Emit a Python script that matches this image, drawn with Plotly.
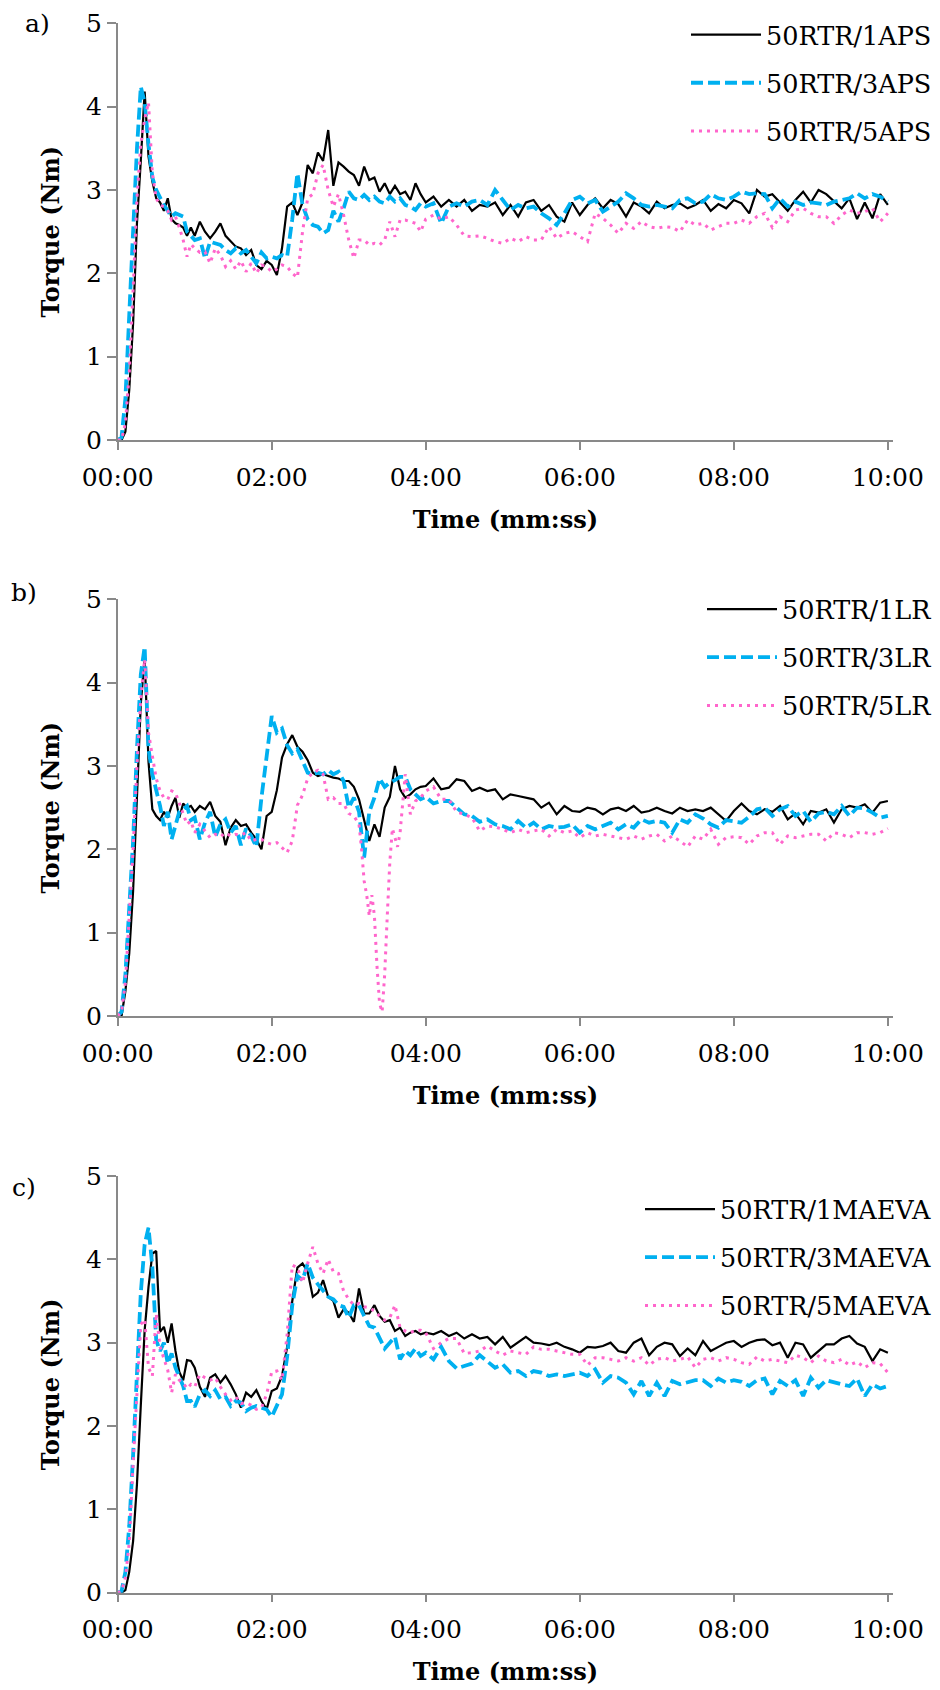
import plotly.graph_objects as go

# ---------------- data ----------------
# common time grid (seconds); 0-60 s every 3 s, 64-240 s every 4 s, 246-600 s every 6 s
TIME = list(range(0, 61, 3)) + list(range(64, 241, 4)) + list(range(246, 601, 6))
TICK_VALS = [0, 120, 240, 360, 480, 600]
TICK_TEXT = ["00:00", "02:00", "04:00", "06:00", "08:00", "10:00"]
Y_TICKS = [0, 1, 2, 3, 4, 5]

# panel a)
A1 = ([0, 0, 0.1, 0.6, 1.4, 2.6, 3.35, 4.18, 3.4, 3.1, 2.9, 2.85, 2.75, 2.9, 2.65, 2.6, 2.58, 2.55, 2.45, 2.55, 2.45]
      + [2.62, 2.5, 2.42, 2.5, 2.6, 2.45, 2.38, 2.32, 2.3, 2.22, 2.28, 2.1, 2.05, 2.15, 2.1, 1.98, 2.3, 2.8, 2.85, 2.7,
         2.85, 3.3, 3.2, 3.45, 3.35, 3.72, 3.05, 3.33, 3.28, 3.22, 3.18, 3.05, 3.28, 3.12, 3.15, 2.98, 3.08, 2.95, 3.05, 2.95,
         2.98, 2.88, 3.08, 2.95, 2.85]
      + [2.92, 2.8, 2.88, 2.8, 2.88, 2.75, 2.82, 2.8, 2.85, 2.7, 2.82, 2.68, 2.85, 2.88, 2.75, 2.82, 2.68, 2.62, 2.85, 2.7,
         2.82, 2.9, 2.78, 2.88, 2.83, 2.68, 2.85, 2.8, 2.72, 2.86, 2.78, 2.82, 2.84, 2.78, 2.82, 2.88, 2.75, 2.83, 2.78, 2.88,
         2.84, 2.72, 3.0, 2.92, 2.95, 2.85, 2.75, 2.88, 2.98, 2.85, 3.0, 2.95, 2.86, 2.78, 2.9, 2.65, 2.85, 2.66, 2.95, 2.82])
A3 = ([0, 0.03, 0.5, 1.45, 2.6, 3.5, 4.24, 4.05, 3.55, 3.15, 3.0, 2.9, 2.82, 2.75, 2.68, 2.72, 2.7, 2.68, 2.5, 2.45, 2.4]
      + [2.42, 2.18, 2.38, 2.36, 2.34, 2.28, 2.24, 2.3, 2.24, 2.28, 2.2, 2.12, 2.25, 2.18, 2.2, 2.18, 2.22, 2.2, 2.65, 3.2,
         2.82, 2.65, 2.58, 2.56, 2.48, 2.52, 2.75, 2.62, 2.78, 2.98, 2.9, 2.88, 2.94, 2.88, 2.92, 2.86, 2.84, 2.92, 2.86, 2.9,
         2.82, 2.8, 2.76, 2.84, 2.8]
      + [2.84, 2.6, 2.8, 2.84, 2.8, 2.86, 2.88, 2.82, 3.0, 2.88, 2.76, 2.82, 2.78, 2.8, 2.72, 2.66, 2.58, 2.72, 2.88, 2.92,
         2.84, 2.88, 2.74, 2.8, 2.86, 2.96, 2.9, 2.82, 2.8, 2.82, 2.8, 2.78, 2.88, 2.9, 2.84, 2.86, 2.95, 2.9, 2.88, 2.92,
         2.98, 2.95, 2.96, 2.95, 2.78, 2.9, 2.8, 2.86, 2.82, 2.85, 2.84, 2.82, 2.86, 2.88, 2.9, 2.96, 2.9, 2.95, 2.92, 2.86])
A5 = ([0, 0, 0.2, 0.8, 1.8, 2.9, 3.55, 3.85, 4.05, 3.2, 2.9, 2.82, 2.8, 2.75, 2.64, 2.68, 2.55, 2.4, 2.2, 2.35, 2.3]
      + [2.25, 2.26, 2.12, 2.3, 2.22, 2.08, 2.15, 2.05, 2.15, 2.02, 2.12, 2.0, 2.1, 2.08, 2.02, 2.05, 2.1, 2.08, 2.0, 1.95,
         2.5, 2.9, 2.95, 3.2, 3.3, 3.0, 2.8, 2.95, 2.7, 2.4, 2.18, 2.4, 2.4, 2.34, 2.36, 2.34, 2.4, 2.62, 2.44, 2.64,
         2.64, 2.62, 2.6, 2.5, 2.65]
      + [2.7, 2.65, 2.68, 2.58, 2.45, 2.44, 2.45, 2.42, 2.38, 2.36, 2.42, 2.38, 2.44, 2.4, 2.4, 2.56, 2.42, 2.48, 2.5, 2.44,
         2.38, 2.72, 2.66, 2.58, 2.48, 2.6, 2.54, 2.62, 2.56, 2.54, 2.56, 2.55, 2.5, 2.64, 2.58, 2.6, 2.52, 2.56, 2.6, 2.6,
         2.64, 2.6, 2.68, 2.72, 2.55, 2.68, 2.62, 2.76, 2.78, 2.72, 2.68, 2.68, 2.6, 2.7, 2.76, 2.72, 2.74, 2.78, 2.62, 2.72])

# panel b)
B1 = ([0, 0, 0.3, 0.75, 1.5, 2.6, 3.75, 4.3, 3.05, 2.48, 2.4, 2.35, 2.45, 2.38, 2.52, 2.62, 2.38, 2.55, 2.5, 2.52, 2.45]
      + [2.52, 2.48, 2.57, 2.4, 2.33, 2.05, 2.26, 2.35, 2.28, 2.3, 2.2, 2.12, 2.0, 2.4, 2.45, 2.71, 3.1, 3.26, 3.37, 3.23,
         3.17, 3.07, 2.92, 2.88, 2.9, 2.88, 2.86, 2.85, 2.82, 2.82, 2.75, 2.6, 2.35, 2.1, 2.3, 2.15, 2.5, 2.63, 3.0, 2.72,
         2.62, 2.66, 2.72, 2.75, 2.76]
      + [2.85, 2.72, 2.74, 2.84, 2.82, 2.7, 2.74, 2.7, 2.72, 2.6, 2.66, 2.64, 2.62, 2.6, 2.5, 2.56, 2.42, 2.52, 2.46, 2.45,
         2.5, 2.48, 2.42, 2.48, 2.5, 2.46, 2.52, 2.44, 2.46, 2.5, 2.46, 2.43, 2.5, 2.46, 2.48, 2.46, 2.5, 2.42, 2.34, 2.46,
         2.55, 2.46, 2.42, 2.48, 2.45, 2.52, 2.36, 2.43, 2.3, 2.46, 2.44, 2.48, 2.32, 2.48, 2.52, 2.5, 2.54, 2.44, 2.56, 2.58])
B3 = ([0, 0.05, 0.5, 1.3, 2.1, 3.2, 4.1, 4.43, 3.2, 2.9, 2.72, 2.52, 2.28, 2.45, 2.12, 2.3, 2.45, 2.48, 2.52, 2.35, 2.38]
      + [2.12, 2.32, 2.45, 2.15, 2.3, 2.36, 2.2, 2.28, 2.05, 2.25, 2.16, 2.03, 2.62, 3.15, 3.6, 3.4, 3.45, 3.25, 3.15, 3.2,
         3.05, 2.92, 2.9, 2.92, 2.9, 2.95, 2.9, 2.93, 2.82, 2.5, 2.62, 2.45, 1.9, 2.45, 2.62, 2.85, 2.75, 2.8, 2.83, 2.87,
         2.87, 2.72, 2.66, 2.6, 2.63]
      + [2.55, 2.58, 2.58, 2.5, 2.42, 2.4, 2.33, 2.36, 2.3, 2.28, 2.24, 2.34, 2.26, 2.32, 2.24, 2.28, 2.26, 2.27, 2.3, 2.2,
         2.28, 2.24, 2.28, 2.32, 2.24, 2.3, 2.26, 2.36, 2.32, 2.34, 2.32, 2.2, 2.36, 2.32, 2.42, 2.37, 2.3, 2.26, 2.35, 2.34,
         2.32, 2.39, 2.48, 2.5, 2.4, 2.48, 2.52, 2.4, 2.46, 2.33, 2.43, 2.45, 2.42, 2.52, 2.4, 2.5, 2.49, 2.44, 2.38, 2.4])
B5 = ([0, 0.05, 0.4, 1.15, 2.0, 3.0, 3.8, 4.28, 3.4, 3.12, 2.85, 2.7, 2.62, 2.6, 2.7, 2.68, 2.55, 2.42, 2.3, 2.34, 2.2]
      + [2.3, 2.22, 2.14, 2.18, 2.15, 2.2, 2.16, 2.18, 2.17, 2.2, 2.1, 2.12, 2.12, 2.08, 2.06, 2.08, 2.02, 1.96, 2.1, 2.53,
         2.65, 2.85, 2.92, 2.95, 2.9, 2.6, 2.62, 2.55, 2.55, 2.43, 2.4, 2.3, 1.62, 1.2, 1.2, 0.15, 0.5, 1.85, 2.15, 2.2,
         2.9, 2.42, 2.58, 2.62, 2.7]
      + [2.75, 2.6, 2.6, 2.45, 2.42, 2.38, 2.22, 2.28, 2.27, 2.24, 2.2, 2.24, 2.2, 2.22, 2.24, 2.16, 2.24, 2.2, 2.22, 2.14,
         2.2, 2.16, 2.18, 2.16, 2.14, 2.12, 2.16, 2.12, 2.16, 2.18, 2.1, 2.16, 2.1, 2.03, 2.16, 2.12, 2.24, 2.06, 2.14, 2.15,
         2.14, 2.06, 2.16, 2.2, 2.2, 2.06, 2.16, 2.14, 2.16, 2.18, 2.18, 2.1, 2.2, 2.18, 2.14, 2.2, 2.2, 2.18, 2.2, 2.25])
# extra samples of 50RTR/5LR inside its sharp dip
B5_DIP_TIME = [190, 194, 198, 202, 206, 210, 214, 218, 222]
B5_DIP = [2.0, 1.45, 1.45, 0.6, 0.05, 1.2, 2.25, 2.03, 2.55]

# panel c)
C1 = ([0, 0, 0.03, 0.25, 0.62, 1.3, 2.25, 3.15, 3.67, 4.07, 4.1, 3.13, 3.19, 3.0, 3.23, 2.9, 2.65, 2.55, 2.79, 2.78, 2.7]
      + [2.47, 2.35, 2.58, 2.62, 2.52, 2.6, 2.5, 2.38, 2.22, 2.4, 2.35, 2.43, 2.3, 2.2, 2.42, 2.45, 2.6, 2.95, 3.5, 3.9,
         3.95, 3.85, 3.55, 3.6, 3.75, 3.55, 3.5, 3.3, 3.4, 3.36, 3.25, 3.65, 3.35, 3.35, 3.45, 3.32, 3.25, 3.27, 3.14, 3.18,
         3.08, 3.12, 3.14, 3.1, 3.12]
      + [3.1, 3.14, 3.08, 3.12, 3.05, 3.1, 3.05, 3.07, 2.98, 3.07, 2.94, 3.0, 3.07, 3.0, 2.99, 2.97, 3.0, 2.95, 2.92, 2.88,
         2.95, 2.94, 2.96, 3.0, 2.9, 2.88, 3.0, 3.05, 2.85, 2.95, 3.0, 2.98, 2.84, 2.93, 2.85, 3.02, 2.9, 2.95, 3.0, 3.02,
         2.95, 3.0, 3.03, 3.04, 2.97, 3.0, 2.82, 3.0, 2.98, 2.82, 2.9, 2.98, 2.98, 3.05, 3.08, 2.99, 2.95, 2.78, 2.92, 2.88])
C3 = ([0, 0.02, 0.25, 0.8, 1.65, 2.55, 3.6, 4.18, 4.38, 3.91, 3.03, 2.9, 3.0, 2.75, 2.87, 2.7, 2.6, 2.48, 2.3, 2.3, 2.23]
      + [2.38, 2.43, 2.36, 2.43, 2.32, 2.35, 2.24, 2.3, 2.28, 2.18, 2.22, 2.24, 2.22, 2.2, 2.11, 2.25, 2.38, 2.83, 3.45, 3.8,
         3.75, 3.95, 3.78, 3.7, 3.62, 3.55, 3.52, 3.45, 3.43, 3.3, 3.45, 3.45, 3.32, 3.2, 3.18, 3.05, 2.93, 3.0, 3.07, 2.8,
         2.9, 2.85, 2.93, 2.84, 2.88]
      + [2.8, 2.95, 2.78, 2.69, 2.72, 2.75, 2.85, 2.78, 2.7, 2.74, 2.64, 2.66, 2.6, 2.66, 2.64, 2.6, 2.62, 2.6, 2.62, 2.64,
         2.6, 2.68, 2.52, 2.6, 2.58, 2.52, 2.38, 2.54, 2.36, 2.52, 2.36, 2.54, 2.5, 2.52, 2.55, 2.55, 2.48, 2.57, 2.52, 2.55,
         2.53, 2.48, 2.55, 2.57, 2.38, 2.54, 2.48, 2.55, 2.36, 2.58, 2.46, 2.55, 2.52, 2.5, 2.48, 2.57, 2.36, 2.5, 2.45, 2.48])
C5 = ([0, 0.02, 0.18, 0.6, 1.55, 2.45, 3.22, 3.28, 2.7, 2.6, 3.35, 2.95, 2.82, 2.67, 2.4, 2.62, 2.55, 2.52, 2.45, 2.5, 2.47]
      + [2.62, 2.58, 2.55, 2.58, 2.47, 2.38, 2.31, 2.35, 2.27, 2.28, 2.25, 2.2, 2.22, 2.38, 2.65, 2.66, 2.55, 3.1, 3.93, 3.9,
         3.72, 3.95, 4.15, 3.95, 3.83, 4.0, 3.85, 3.83, 3.62, 3.52, 3.45, 3.47, 3.43, 3.42, 3.38, 3.32, 3.27, 3.3, 3.45, 3.18,
         3.14, 3.12, 3.15, 3.15, 3.12]
      + [2.93, 3.0, 3.05, 3.05, 2.87, 2.88, 2.9, 2.96, 2.9, 2.85, 2.9, 2.88, 2.86, 2.95, 2.92, 2.92, 2.9, 2.88, 2.86, 2.86,
         2.73, 2.82, 2.82, 2.8, 2.78, 2.82, 2.78, 2.82, 2.73, 2.8, 2.82, 2.78, 2.8, 2.83, 2.7, 2.8, 2.82, 2.78, 2.82, 2.8,
         2.76, 2.74, 2.83, 2.78, 2.8, 2.78, 2.76, 2.85, 2.82, 2.76, 2.84, 2.78, 2.76, 2.8, 2.73, 2.77, 2.7, 2.76, 2.75, 2.64])

for s in (A1, A3, A5, B1, B3, B5, C1, C3, C5):
    assert len(s) == len(TIME), len(s)

# merge the extra dip samples of 50RTR/5LR with its main samples
_b5 = sorted(zip(TIME + B5_DIP_TIME, B5 + B5_DIP))
B5_T = [p[0] for p in _b5]
B5_V = [p[1] for p in _b5]

PANELS = [
    ("a)", ["50RTR/1APS", "50RTR/3APS", "50RTR/5APS"], [(TIME, A1), (TIME, A3), (TIME, A5)]),
    ("b)", ["50RTR/1LR", "50RTR/3LR", "50RTR/5LR"], [(TIME, B1), (TIME, B3), (B5_T, B5_V)]),
    ("c)", ["50RTR/1MAEVA", "50RTR/3MAEVA", "50RTR/5MAEVA"], [(TIME, C1), (TIME, C3), (TIME, C5)]),
]

# ---------------- styling ----------------
W, H = 940, 1690
SERIF = "DejaVu Serif"
AXIS = "#898989"
STYLES = [
    dict(color="black", width=2.2, dash="solid"),
    dict(color="#00B0F0", width=3.8, dash="12px,5px"),
    dict(color="#FF66CC", width=3.0, dash="3px,5px"),
]
# pixel geometry (top, bottom) of each plot area, and x extent
X_LEFT, X_RIGHT = 117.7, 893.0
Y_PIX = [(23.3, 440.0), (599.3, 1016.0), (1176.0, 1592.7)]
LABEL_POS = [(37.5, 24.0), (24.0, 592.5), (23.5, 1187.0)]
LEGEND_MID = [83.0, 657.5, 1257.5]

fig = go.Figure()
layout = dict(
    width=W, height=H, margin=dict(l=0, r=0, t=0, b=0, autoexpand=False),
    paper_bgcolor="white", plot_bgcolor="white",
    font=dict(family=SERIF, size=24, color="black"),
    annotations=[],
)

for i, (lab, names, series) in enumerate(PANELS):
    k = "" if i == 0 else str(i + 1)
    legname = "legend" + k
    for j, ((tx, ty), nm) in enumerate(zip(series, names)):
        st = STYLES[j]
        fig.add_trace(go.Scatter(
            x=tx, y=ty, name=nm, mode="lines",
            line=dict(color=st["color"], width=st["width"], dash=st["dash"]),
            xaxis="x" + k, yaxis="y" + k, legend=legname,
            legendgroup=f"{legname}_{j}", hoverinfo="skip",
        ))
    top, bot = Y_PIX[i]
    layout["xaxis" + k] = dict(
        domain=[X_LEFT / W, X_RIGHT / W], range=[0, 604], anchor="y" + k,
        automargin=False,
        tickmode="array", tickvals=TICK_VALS, ticktext=TICK_TEXT,
        ticks="outside", ticklen=8, tickwidth=1.5, tickcolor=AXIS,
        ticklabelstandoff=6,
        showline=True, linecolor=AXIS, linewidth=1.5,
        showgrid=False, zeroline=False,
        tickfont=dict(family=SERIF, size=25, color="black"),
        title=dict(text="Time (mm:ss)", standoff=20,
                   font=dict(family=SERIF, size=24, color="black", weight="bold")),
    )
    layout["yaxis" + k] = dict(
        domain=[1 - bot / H, 1 - top / H], range=[0, 5], anchor="x" + k,
        automargin=False,
        tickmode="array", tickvals=Y_TICKS,
        ticks="outside", ticklen=9, tickwidth=1.5, tickcolor=AXIS,
        showline=True, linecolor=AXIS, linewidth=1.5,
        showgrid=False, zeroline=False,
        tickfont=dict(family=SERIF, size=25, color="black"),
        title=dict(text="Torque (Nm)", standoff=20,
                   font=dict(family=SERIF, size=24, color="black", weight="bold")),
    )
    layout[legname] = dict(
        x=937 / W, xanchor="right", y=1 - LEGEND_MID[i] / H, yanchor="middle",
        bgcolor="rgba(0,0,0,0)", borderwidth=0, tracegroupgap=12, itemwidth=70,
        font=dict(family=SERIF, size=25.5, color="black"),
    )
    lx, ly = LABEL_POS[i]
    layout["annotations"].append(dict(
        text=lab, x=lx / W, y=1 - ly / H, xref="paper", yref="paper",
        xanchor="center", yanchor="middle", showarrow=False,
        font=dict(family=SERIF, size=25, color="black"),
    ))

fig.update_layout(**layout)
fig.write_html("out.html")
